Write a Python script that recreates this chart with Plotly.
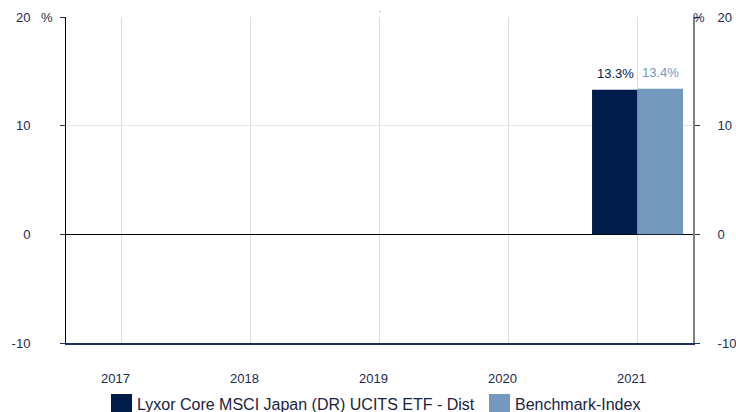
import plotly.graph_objects as go

years = ["2017", "2018", "2019", "2020", "2021"]
fund_name = "Lyxor Core MSCI Japan (DR) UCITS ETF - Dist"
bench_name = "Benchmark-Index"
fund_values = [None, None, None, None, 13.3]
bench_values = [None, None, None, None, 13.4]
y_ticks = [-10, 0, 10, 20]
y_tick_text = ["-10", "0", "10", "20"]

DARK = "#001c4b"
LIGHT = "#7399bf"
TXT = "#1b2b4f"
FONT = "Liberation Sans, Arial, sans-serif"

W, H = 736, 412
PL, PR, PT, PB = 66, 693, 17, 343      # plot area in window pixels
PW, PH = PR - PL, PB - PT
L, T = PL, PT
R = W - L - PW
B = H - T - PH


def px(x):
    return (x - PL) / PW


def py(y):
    return (PB - y) / PH


fig = go.Figure()
fig.add_trace(go.Bar(
    x=years, y=fund_values, name=fund_name, marker=dict(color=DARK, line=dict(width=0)),
    showlegend=False, hoverinfo="skip",
))
fig.add_trace(go.Bar(
    x=years, y=bench_values, name=bench_name, marker=dict(color=LIGHT, line=dict(width=0)),
    showlegend=False, hoverinfo="skip",
))
# invisible trace to activate right axis
fig.add_trace(go.Scatter(x=years, y=[None] * len(years), yaxis="y2", showlegend=False,
                         hoverinfo="skip"))

fig.update_layout(
    width=W, height=H,
    margin=dict(l=L, r=R, t=T, b=B, pad=0, autoexpand=False),
    paper_bgcolor="white", plot_bgcolor="white",
    barmode="group", bargap=0.295, bargroupgap=0,
    font=dict(family=FONT, size=13, color=TXT),
    showlegend=False,
    xaxis=dict(
        type="category", range=[-0.43, 4.43], automargin=False,
        showgrid=True, gridcolor="#dcdcdc", gridwidth=1,
        showline=True, linecolor="#1f2f5a", linewidth=2,
        ticks="", tickfont=dict(size=13, color=TXT, family=FONT),
        ticklabelstandoff=22, ticklabelshift=-6,
        zeroline=False,
    ),
    yaxis=dict(
        range=[-10, 20], tickvals=y_ticks, ticktext=y_tick_text, automargin=False,
        showgrid=True, gridcolor="#e6e6e6", gridwidth=1,
        zeroline=True, zerolinecolor="black", zerolinewidth=1,
        showline=True, linecolor="black", linewidth=1,
        ticks="outside", ticklen=5, tickcolor="#1f2f5a",
        tickfont=dict(size=13, color=TXT, family=FONT),
        ticklabelstandoff=27,
    ),
    yaxis2=dict(
        range=[-10, 20], tickvals=y_ticks, ticktext=y_tick_text, automargin=False,
        overlaying="y", side="right",
        showgrid=False, zeroline=False,
        showline=True, linecolor="#808080", linewidth=2,
        ticks="outside", ticklen=5, tickcolor="#1f2f5a",
        tickfont=dict(size=13, color=TXT, family=FONT),
        ticklabelstandoff=15,
    ),
)

ann = [
    dict(x=px(47), y=py(18), text="%", xanchor="center", yanchor="middle"),
    dict(x=px(699), y=py(18), text="%", xanchor="center", yanchor="middle"),
    dict(x=px(380), y=py(10), text=".", xanchor="center", yanchor="middle",
         font=dict(size=8, color="#333")),
    dict(x=px(135), y=py(404.5), text=fund_name, xanchor="left", yanchor="middle",
         font=dict(size=16, color="#1a2440", family=FONT)),
    dict(x=px(513), y=py(404.5), text=bench_name, xanchor="left", yanchor="middle",
         font=dict(size=16, color="#1a2440", family=FONT)),
]
for a in ann:
    a.update(xref="paper", yref="paper", showarrow=False)
    a.setdefault("font", dict(size=13, color=TXT, family=FONT))

# value labels above the bars, positioned from the data
for vals, color, shift in ((fund_values, DARK, -22), (bench_values, LIGHT, 23)):
    for i, v in enumerate(vals):
        if v is None:
            continue
        ann.append(dict(x=i, y=v, xref="x", yref="y", text=f"{v:.1f}%",
                        showarrow=False, xanchor="center", yanchor="bottom",
                        xshift=shift, yshift=7,
                        font=dict(size=13, color=color, family=FONT)))
fig.update_layout(annotations=ann)

fig.update_layout(shapes=[
    dict(type="rect", xref="paper", yref="paper", x0=px(111), x1=px(132),
         y0=py(394), y1=py(416), fillcolor=DARK, line=dict(width=0)),
    dict(type="rect", xref="paper", yref="paper", x0=px(489), x1=px(510),
         y0=py(394), y1=py(416), fillcolor=LIGHT, line=dict(width=0)),
])

fig.write_html("out.html", config={"displayModeBar": False},
               post_script="document.body.style.margin='0';")
